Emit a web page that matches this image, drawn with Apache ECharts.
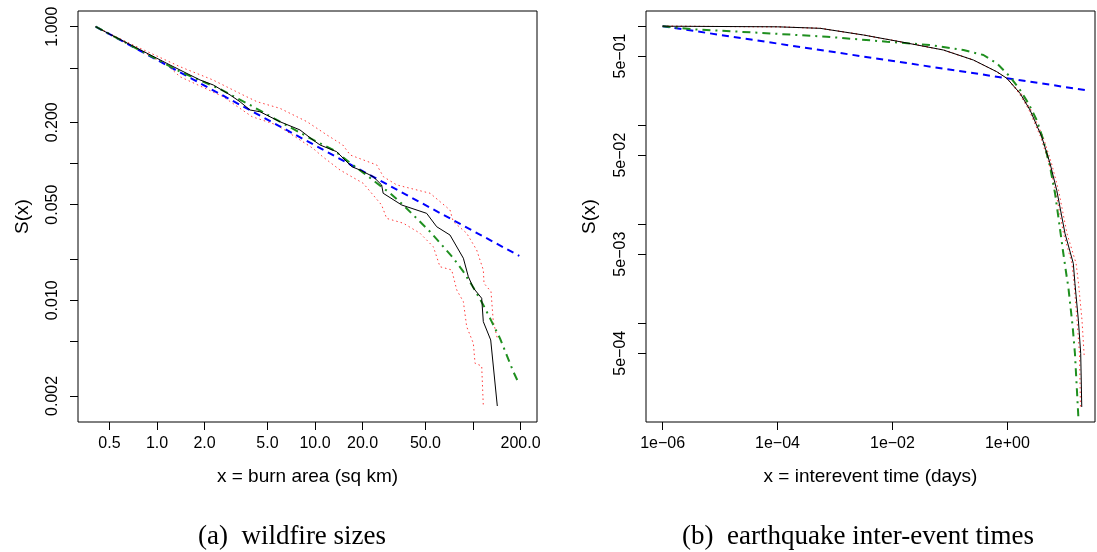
<!DOCTYPE html>
<html><head><meta charset="utf-8">
<script src="https://cdn.jsdelivr.net/npm/echarts@6/dist/echarts.min.js"></script>
<style>html,body{margin:0;padding:0;background:#fff}#c{width:1097px;height:552px}</style>
</head><body><div id="c"></div>
<script>
// ---------- Panel (a): wildfire sizes ----------
const fireTicksX = [0.5, 1, 2, 5, 10, 20, 50, 100, 200];
const fireLabelValsX = [0.5, 1, 2, 5, 10, 20, 50, 200];
const fireLabelTextX = ['0.5', '1.0', '2.0', '5.0', '10.0', '20.0', '50.0', '200.0'];
const fireTicksY = [1, 0.5, 0.2, 0.1, 0.05, 0.02, 0.01, 0.005, 0.002];
const fireLabelValsY = [1, 0.2, 0.05, 0.01, 0.002];
const fireLabelTextY = ['1.000', '0.200', '0.050', '0.010', '0.002'];

const fireEmpirical = [[0.409,1],[0.504,0.880],[1.152,0.540],[1.398,0.4825],[1.871,0.408],[2.27,0.375],
  [2.90,0.317],[3.35,0.283],[3.88,0.246],[4.48,0.239],[6.00,0.202],[8.03,0.176],[9.71,0.1486],
  [10.76,0.1365],[13.71,0.122],[14.4,0.1154],[17.06,0.0948],[19.27,0.0896],[23.39,0.080],
  [26.4,0.0697],[27.0,0.0606],[35.4,0.0497],[50.9,0.0432],[58.9,0.0345],[71.5,0.030],
  [86.9,0.0203],[93.4,0.01489],[100.5,0.0123],[113.5,0.01035],[116.2,0.00698],[129.4,0.00513],
  [142.5,0.001687]];
const fireUpper = [[0.409,1],[0.705,0.735],[1.398,0.510],[2.26,0.408],[3.50,0.317],[4.29,0.283],
  [6.00,0.253],[8.90,0.202],[11.9,0.1616],[15.0,0.1365],[16.7,0.1154],[24.6,0.0975],[27.1,0.080],
  [32.9,0.0697],[53.5,0.0606],[71.5,0.0457],[75.0,0.0376],[91.2,0.0309],[105.5,0.0233],
  [116.2,0.01666],[117.4,0.0133],[130.0,0.01156],[134.4,0.00698],[143.3,0.00513]];
const fireLower = [[0.409,1],[1.157,0.525],[1.398,0.431],[2.62,0.308],[3.35,0.253],[3.99,0.220],
  [5.75,0.191],[9.71,0.129],[11.2,0.112],[14.4,0.0896],[20.2,0.0716],[26.4,0.0497],[28.4,0.0397],
  [36.2,0.0366],[46.2,0.0309],[56.1,0.0246],[61.8,0.0176],[73.3,0.01666],[78.9,0.01189],
  [86.9,0.00977],[91.2,0.00641],[100.5,0.00485],[103.0,0.00346],[113.5,0.00331],[116.2,0.00169]];
const firePowerLaw = [[0.409,1],[196.4,0.0211]];
const fireLognormal = [[0.409,1],[1.398,0.469],[2.443,0.355],[3.88,0.268],[6.00,0.202],[9.76,0.1486],
  [13.05,0.1255],[18.8,0.0911],[23.97,0.0736],[29.9,0.0606],[36.2,0.0497],[44.0,0.0397],
  [53.5,0.0317],[63.4,0.0254],[75.1,0.0203],[86.9,0.01618],[100.5,0.0124],[116.2,0.00924],
  [131.3,0.00698],[148.2,0.00527],[163.4,0.00398],[179.9,0.00301],[190.6,0.00261]];

// ---------- Panel (b): earthquake inter-event times ----------
const quakeTicksX = [1e-6, 1e-4, 1e-2, 1];
const quakeLabelTextX = ['1e\u221206', '1e\u221204', '1e\u221202', '1e+00'];
const quakeTicksY = [1, 0.5, 0.1, 0.05, 0.01, 0.005, 0.001, 0.0005];
const quakeLabelValsY = [0.5, 0.05, 0.005, 0.0005];
const quakeLabelTextY = ['5e\u221201', '5e\u221202', '5e\u221203', '5e\u221204'];

const quakeEmpirical = [[1e-6,1],[9.9e-5,0.986],[5.53e-4,0.952],[3.13e-3,0.815],[0.0136,0.697],
  [0.0771,0.575],[0.2565,0.4555],[0.655,0.347],[0.977,0.298],[1.663,0.210],[2.48,0.1425],
  [3.96,0.0766],[5.53,0.0412],[7.23,0.0221],[10.07,0.00809],[14.05,0.00403],[15.0,0.00253],
  [17.2,0.001077],[18.9,0.000497],[19.7,0.0001435]];
const quakeUpper = [[1e-6,1],[9.9e-5,0.986],[5.53e-4,0.952],[3.13e-3,0.815],[0.0136,0.697],
  [0.0771,0.575],[0.2565,0.4555],[0.655,0.347],[0.977,0.298],[1.73,0.210],[2.58,0.1425],
  [4.18,0.0766],[5.87,0.0412],[7.77,0.0221],[10.9,0.00809],[15.7,0.00403],[17.3,0.00253],
  [19.9,0.001077],[21.6,0.000497],[21.8,0.000456]];
const quakeLower = [[1e-6,1],[9.9e-5,0.986],[5.53e-4,0.952],[3.13e-3,0.815],[0.0136,0.697],
  [0.0771,0.575],[0.2565,0.4555],[0.655,0.347],[0.977,0.298],[1.60,0.210],[2.38,0.1425],
  [3.78,0.0766],[5.31,0.0412],[6.89,0.0221],[9.49,0.00809],[13.3,0.00403],[14.5,0.00253],
  [16.3,0.001077],[18.0,0.000497],[18.7,0.0001435]];
const quakePowerLaw = [[1e-6,1],[22.4,0.227]];
const quakeFit = [[1e-6,1],[3.46e-6,0.930],[3.35e-5,0.868],[7.22e-4,0.783],[0.0080,0.697],
  [0.0453,0.646],[0.172,0.575],[0.383,0.512],[0.655,0.422],[1.114,0.309],[1.663,0.227],
  [2.32,0.1665],[3.24,0.1129],[4.23,0.0709],[5.53,0.0381],[6.76,0.0205],[7.71,0.0119],
  [9.42,0.00508],[10.79,0.00295],[11.5,0.00234],[13.7,0.000922],[15.0,0.000497],[17.2,0.0001137]];

const captionA = '(a)  wildfire sizes';
const captionB = '(b)  earthquake inter-event times';

// ---------- helpers ----------
const SANS = '"Liberation Sans", Arial, Helvetica, sans-serif';
function lookup(vals, texts) {
  return function (v) {
    for (let i = 0; i < vals.length; i++) {
      if (Math.abs(Math.log10(vals[i]) - Math.log10(v)) < 1e-6) return texts[i];
    }
    return '';
  };
}
function logAxis(gridIndex, min, max, ticks, labelVals, labelFmt, name, nameGap, isY) {
  return {
    type: 'log', logBase: 10, gridIndex: gridIndex, min: min, max: max,
    name: name, nameLocation: 'middle', nameGap: nameGap,
    nameTextStyle: { fontFamily: SANS, fontSize: 19, color: '#000' },
    axisLine: { show: false },
    splitLine: { show: false },
    minorTick: { show: false },
    axisTick: { show: true, inside: false, length: 8, customValues: ticks,
      lineStyle: { color: '#000', width: 1 } },
    axisLabel: { show: true, customValues: labelVals, formatter: labelFmt,
      fontFamily: SANS, fontSize: 16, color: '#000',
      margin: isY ? 17 : 14, rotate: isY ? 90 : 0 }
  };
}
function line(data, xi, color, width, type) {
  return { type: 'line', data: data, xAxisIndex: xi, yAxisIndex: xi, showSymbol: false,
    symbol: 'none', smooth: false, clip: true, silent: true,
    lineStyle: { color: color, width: width, type: type } };
}

const chart = echarts.init(document.getElementById('c'), null, { renderer: 'canvas' });
chart.setOption({
  animation: false,
  backgroundColor: '#fff',
  grid: [
    { left: 78, top: 11, width: 459, height: 411, show: true, borderColor: '#000', borderWidth: 1, backgroundColor: 'transparent' },
    { left: 646, top: 11, width: 449, height: 411, show: true, borderColor: '#000', borderWidth: 1, backgroundColor: 'transparent' }
  ],
  xAxis: [
    logAxis(0, 0.3162, 254.1, fireTicksX, fireLabelValsX, lookup(fireLabelValsX, fireLabelTextX), 'x = burn area (sq km)', 45, false),
    logAxis(1, 5.14e-7, 33.5, quakeTicksX, quakeTicksX, lookup(quakeTicksX, quakeLabelTextX), 'x = interevent time (days)', 45, false)
  ],
  yAxis: [
    logAxis(0, 0.001289, 1.3024, fireTicksY, fireLabelValsY, lookup(fireLabelValsY, fireLabelTextY), 'S(x)', 46, true),
    logAxis(1, 1.012e-4, 1.4236, quakeTicksY, quakeLabelValsY, lookup(quakeLabelValsY, quakeLabelTextY), 'S(x)', 47, true)
  ],
  series: [
    line(fireUpper, 0, '#ff3b3b', 1, [1.5, 3]),
    line(fireLower, 0, '#ff3b3b', 1, [1.5, 3]),
    line(firePowerLaw, 0, '#0000ff', 2, [7, 5]),
    line(fireLognormal, 0, '#1f8f1f', 2, [8, 5, 2, 5]),
    line(fireEmpirical, 0, '#000000', 1, 'solid'),
    line(quakeUpper, 1, '#ff3b3b', 1, [1.5, 3]),
    line(quakeLower, 1, '#ff3b3b', 1, [1.5, 3]),
    line(quakePowerLaw, 1, '#0000ff', 2, [7, 5]),
    line(quakeFit, 1, '#1f8f1f', 2, [8, 5, 2, 5]),
    line(quakeEmpirical, 1, '#000000', 1, 'solid')
  ],
  graphic: [
    { type: 'text', x: 292, y: 537, silent: true,
      style: { text: captionA, fontFamily: '"Liberation Serif", "DejaVu Serif", serif', fontSize: 27,
        fill: '#000', align: 'center', verticalAlign: 'middle' } },
    { type: 'text', x: 858, y: 537, silent: true,
      style: { text: captionB, fontFamily: '"Liberation Serif", "DejaVu Serif", serif', fontSize: 27,
        fill: '#000', align: 'center', verticalAlign: 'middle' } }
  ]
});
</script>
</body></html>
